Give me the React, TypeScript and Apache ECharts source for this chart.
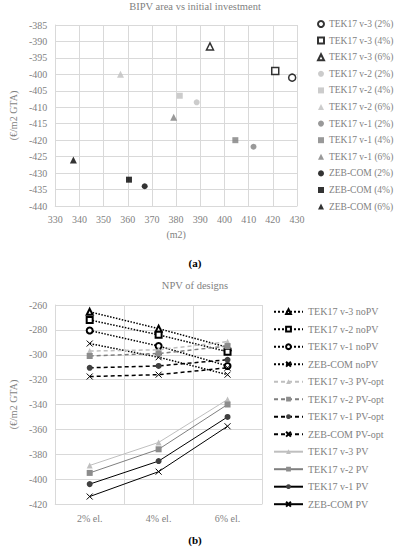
import React, { useEffect, useRef } from "react";
import * as echarts from "echarts";

// ---------- Chart (a) data ----------
const topNames = [
  "TEK17 v-3 (2%)", "TEK17 v-3 (4%)", "TEK17 v-3 (6%)",
  "TEK17 v-2 (2%)", "TEK17 v-2 (4%)", "TEK17 v-2 (6%)",
  "TEK17 v-1 (2%)", "TEK17 v-1 (4%)", "TEK17 v-1 (6%)",
  "ZEB-COM (2%)", "ZEB-COM (4%)", "ZEB-COM (6%)",
];
const topArea = [428, 421, 394, 388.5, 381.5, 357, 412, 404.5, 379, 367, 360.5, 337.5];
const topInvest = [-401, -399, -391.5, -408.5, -406.5, -400, -422, -420, -413, -434, -432, -426];

// ---------- Chart (b) data ----------
const categories = ["2% el.", "4% el.", "6% el."];
const botNames = [
  "TEK17 v-3 noPV", "TEK17 v-2 noPV", "TEK17 v-1 noPV", "ZEB-COM noPV",
  "TEK17 v-3 PV-opt", "TEK17 v-2 PV-opt", "TEK17 v-1 PV-opt", "ZEB-COM PV-opt",
  "TEK17 v-3 PV", "TEK17 v-2 PV", "TEK17 v-1 PV", "ZEB-COM PV",
];
const v3NoPV = [-265.5, -279, -294];
const v2NoPV = [-272, -284, -297.5];
const v1NoPV = [-280.5, -293, -309];
const zebNoPV = [-291, -302, -316];
const v3PVopt = [-297, -296, -289.5];
const v2PVopt = [-301, -299, -293];
const v1PVopt = [-310.5, -309, -304];
const zebPVopt = [-317.5, -316, -310.5];
const v3PV = [-389, -370.5, -336];
const v2PV = [-395, -376, -340];
const v1PV = [-404, -385.5, -350];
const zebPV = [-414, -394, -357.5];
const botValues = [
  v3NoPV, v2NoPV, v1NoPV, zebNoPV,
  v3PVopt, v2PVopt, v1PVopt, zebPVopt,
  v3PV, v2PV, v1PV, zebPV,
];

const FONT = "Liberation Serif";
const TXT = "#7f7f7f";
const GRID = "#d9d9d9";
const CROSS = "path://M0,0L10,10M10,0L0,10";

export default function App() {
  const ref = useRef<HTMLDivElement>(null);
  useEffect(() => {
    if (!ref.current) return;
    const chart = echarts.init(ref.current, undefined, { renderer: "svg" });

    // top scatter styles
    const topSym = ["circle", "rect", "triangle"];
    const topStyle = (i: number) => {
      const grp = Math.floor(i / 3);
      if (grp === 0) return { color: "#ffffff", borderColor: "#000000", borderWidth: 1.5 };
      if (grp === 1) return { color: "#bfbfbf" };
      if (grp === 2) return { color: "#7f7f7f" };
      return { color: "#000000" };
    };
    const topSeries = topNames.map((n, i) => ({
      name: n,
      type: "scatter",
      xAxisIndex: 0,
      yAxisIndex: 0,
      symbol: topSym[i % 3],
      symbolSize: i < 3 ? 7 : i % 3 === 2 ? 7 : 6,
      itemStyle: topStyle(i),
      data: [[topArea[i], topInvest[i]]],
    }));

    // bottom line styles
    const syms = ["emptyTriangle", "emptyRect", "emptyCircle", CROSS];
    const filledSyms = ["triangle", "rect", "circle", CROSS];
    const markerColors = ["#bfbfbf", "#8c8c8c", "#404040", "#000000"];
    const optLine = ["#bfbfbf", "#7f7f7f", "#000000", "#000000"];
    const pvLine = ["#bfbfbf", "#7f7f7f", "#000000", "#000000"];
    const botSeries = botNames.map((n, i) => {
      const grp = Math.floor(i / 4);
      const k = i % 4;
      let symbol: string, lineStyle: any, itemStyle: any;
      if (grp === 0) {
        symbol = syms[k];
        lineStyle = { color: "#000000", width: 1.5, type: "dotted" };
        itemStyle = { color: "#000000", borderColor: "#000000", borderWidth: 1 };
      } else if (grp === 1) {
        symbol = filledSyms[k];
        lineStyle = { color: optLine[k], width: 1.5, type: [4, 3] };
        itemStyle = { color: markerColors[k], borderColor: markerColors[k], borderWidth: k === 3 ? 1 : 0 };
      } else {
        symbol = filledSyms[k];
        lineStyle = { color: pvLine[k], width: 1, type: "solid" };
        itemStyle = { color: markerColors[k], borderColor: markerColors[k], borderWidth: k === 3 ? 1 : 0 };
      }
      return {
        name: n,
        type: "line",
        xAxisIndex: 1,
        yAxisIndex: 1,
        symbol,
        symbolSize: 6,
        showSymbol: true,
        lineStyle,
        itemStyle,
        data: botValues[i],
      };
    });

    const axisLabel = { color: TXT, fontFamily: FONT, fontSize: 10 };
    const titleStyle = { color: TXT, fontFamily: FONT, fontSize: 10.5, fontWeight: "normal" };
    const capStyle = { color: "#000000", fontFamily: FONT, fontSize: 11, fontWeight: "bold" };
    chart.setOption({
      animation: false,
      textStyle: { fontFamily: FONT },
      title: [
        { text: "BIPV area vs initial investment", left: 195, top: 1, padding: 0, textAlign: "center", textStyle: titleStyle },
        { text: "NPV of designs", left: 195, top: 280, padding: 0, textAlign: "center", textStyle: titleStyle },
        { text: "(a)", left: 195, top: 257, padding: 0, textAlign: "center", textStyle: capStyle },
        { text: "(b)", left: 195, top: 534, padding: 0, textAlign: "center", textStyle: capStyle },
      ],
      grid: [
        { left: 42, top: 25, width: 255, height: 181 },
        { left: 52, top: 305, width: 210, height: 199 },
      ],
      xAxis: [
        {
          gridIndex: 0, type: "value", min: 330, max: 430, interval: 10,
          name: "(m2)", nameLocation: "middle", nameGap: 23,
          nameTextStyle: { color: TXT, fontFamily: FONT, fontSize: 10 },
          axisLine: { show: true, lineStyle: { color: GRID } },
          axisTick: { show: false },
          axisLabel,
          splitLine: { show: true, lineStyle: { color: GRID } },
        },
        {
          gridIndex: 1, type: "category", data: categories, boundaryGap: true,
          axisLine: { show: true, lineStyle: { color: GRID } },
          axisTick: { show: false },
          axisLabel: { ...axisLabel, margin: 9 },
          splitLine: { show: true, lineStyle: { color: GRID } },
        },
      ],
      yAxis: [
        {
          gridIndex: 0, type: "value", min: -440, max: -385, interval: 5,
          name: "(€/m2 GTA)", nameLocation: "middle", nameGap: 32,
          nameTextStyle: { color: TXT, fontFamily: FONT, fontSize: 10 },
          axisLine: { show: true, lineStyle: { color: GRID } },
          axisTick: { show: false },
          axisLabel,
          splitLine: { show: true, lineStyle: { color: GRID } },
        },
        {
          gridIndex: 1, type: "value", min: -420, max: -260, interval: 20,
          name: "(€/m2 GTA)", nameLocation: "middle", nameGap: 34,
          nameTextStyle: { color: TXT, fontFamily: FONT, fontSize: 10 },
          axisLine: { show: true, lineStyle: { color: GRID } },
          axisTick: { show: false },
          axisLabel,
          splitLine: { show: true, lineStyle: { color: GRID } },
        },
      ],
      legend: [
        {
          data: topNames,
          orient: "vertical",
          left: 317, top: 18, padding: 0,
          itemWidth: 6, itemHeight: 6, itemGap: 4.6,
          textStyle: { color: TXT, fontFamily: FONT, fontSize: 9.5, lineHeight: 12 },
          selectedMode: false,
        },
        {
          data: botNames,
          orient: "vertical",
          left: 273, top: 305.7, padding: 0,
          itemWidth: 29, itemHeight: 6, itemGap: 5.5,
          textStyle: { color: TXT, fontFamily: FONT, fontSize: 10, lineHeight: 12 },
          selectedMode: false,
        },
      ],
      series: [...topSeries, ...botSeries],
    } as any);
    return () => chart.dispose();
  }, []);
  return (
    <div
      ref={ref}
      style={{ position: "absolute", left: 0, top: 0, width: 395, height: 550, background: "#ffffff" }}
    />
  );
}
